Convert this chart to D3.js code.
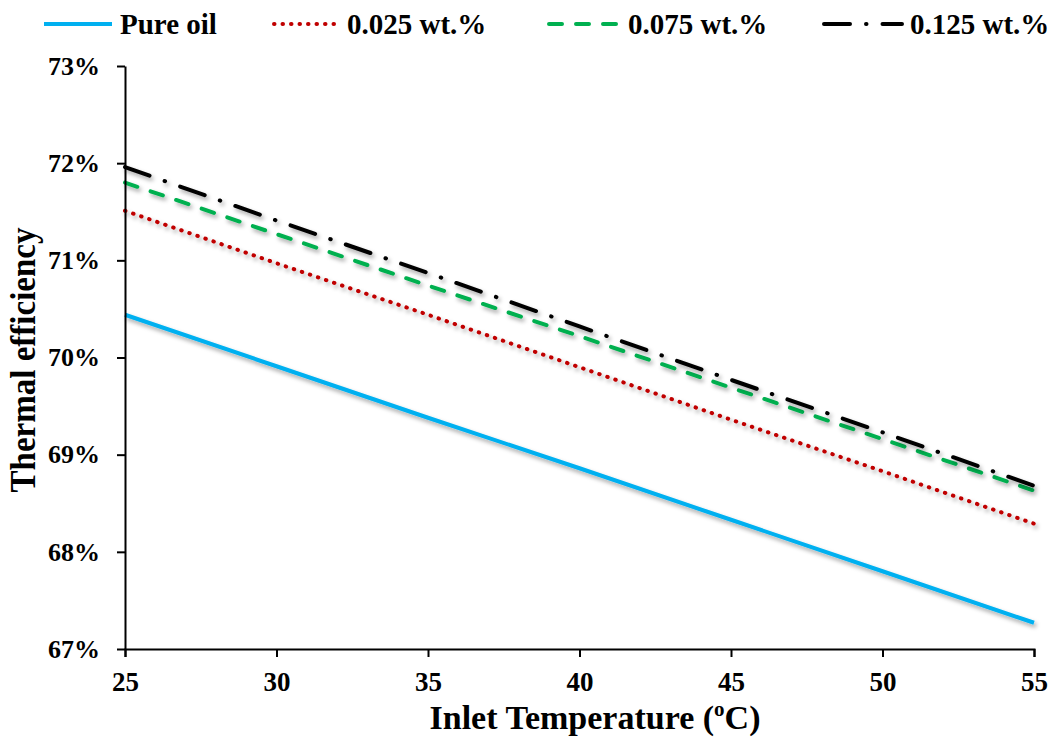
<!DOCTYPE html>
<html>
<head>
<meta charset="utf-8">
<script src="https://cdn.jsdelivr.net/npm/d3@7"></script>
<style>
  body { margin: 0; background: #fff; }
  svg text { font-family: "Liberation Serif", "Times New Roman", Times, serif; font-weight: bold; fill: #000; }
  .axis path, .axis line { stroke: #000; stroke-width: 2; }
</style>
</head>
<body>
<div id="chart"></div>
<script>
// data
const temps = [25, 30, 35, 40, 45, 50, 55];
const pureOil = [70.44, 69.91, 69.38, 68.86, 68.33, 67.80, 67.27];
const wt025 = [71.51, 70.97, 70.44, 69.90, 69.36, 68.83, 68.29];
const wt075 = [71.80, 71.27, 70.74, 70.22, 69.69, 69.16, 68.63];
const wt125 = [71.96, 71.41, 70.87, 70.32, 69.77, 69.23, 68.68];
const seriesNames = ["Pure oil", "0.025 wt.%", "0.075 wt.%", "0.125 wt.%"];
const yTicks = [67, 68, 69, 70, 71, 72, 73];

const svgWidth = 1051, svgHeight = 740;
const margin = { top: 66, right: 17, bottom: 91, left: 125 };
const width = svgWidth - margin.left - margin.right;
const height = svgHeight - margin.top - margin.bottom;

const styles = [
    { color: "#00B0F0", dash: null, cap: "butt" },
    { color: "#C00000", dash: "0.5 8", cap: "round" },
    { color: "#00B050", dash: "13 14", cap: "round" },
    { color: "#000000", dash: "26 16 0.5 16", cap: "round" }
];
const allSeries = [pureOil, wt025, wt075, wt125];

const svg = d3.select("#chart").append("svg")
    .attr("width", svgWidth)
    .attr("height", svgHeight);

const defs = svg.append("defs");
const filter = defs.append("filter").attr("id", "shadow")
    .attr("x", "-5%").attr("y", "-20%").attr("width", "110%").attr("height", "160%");
filter.append("feDropShadow")
    .attr("dx", 2).attr("dy", 3).attr("stdDeviation", 2)
    .attr("flood-color", "#000").attr("flood-opacity", 0.35);

const g = svg.append("g").attr("transform", `translate(${margin.left},${margin.top})`);

const xScale = d3.scaleLinear().domain([25, 55]).range([0, width]);
const yScale = d3.scaleLinear().domain([67, 73]).range([height, 0]);

const line = d3.line()
    .x((_, i) => xScale(temps[i]))
    .y(d => yScale(d));

allSeries.forEach((data, i) => {
    g.append("path")
        .datum(data)
        .attr("d", line)
        .attr("fill", "none")
        .attr("stroke", styles[i].color)
        .attr("stroke-width", 4)
        .attr("stroke-linecap", styles[i].cap)
        .attr("stroke-dasharray", styles[i].dash)
        .attr("filter", "url(#shadow)");
});

// axes
const xAxis = d3.axisBottom(xScale).tickValues(temps).tickSize(8).tickSizeOuter(8).tickPadding(15);
g.append("g")
    .attr("class", "axis x-axis")
    .attr("transform", `translate(0,${height})`)
    .call(xAxis)
    .call(a => a.selectAll("text").attr("font-size", 27));

const yAxis = d3.axisLeft(yScale).tickValues(yTicks).tickSize(8).tickSizeOuter(0).tickPadding(17)
    .tickFormat(d => d + "%");
g.append("g")
    .attr("class", "axis y-axis")
    .call(yAxis)
    .call(a => a.selectAll("text").attr("font-size", 26));

// axis titles
const xTitle = svg.append("text")
    .attr("x", 595)
    .attr("y", 729)
    .attr("text-anchor", "middle")
    .attr("font-size", 34);
xTitle.append("tspan").text("Inlet Temperature (");
xTitle.append("tspan").text("o").attr("font-size", 21).attr("dy", -13);
xTitle.append("tspan").text("C)").attr("dy", 13);

svg.append("text")
    .attr("transform", "translate(35,360) rotate(-90)")
    .attr("text-anchor", "middle")
    .attr("font-size", 35)
    .attr("textLength", 265)
    .attr("lengthAdjust", "spacingAndGlyphs")
    .text("Thermal efficiency");

// legend
const legendX = [44, 274, 549, 824];
const legendW = [68, 65, 71, 78];
const legend = svg.append("g").attr("class", "legend");
seriesNames.forEach((name, i) => {
    const item = legend.append("g").attr("transform", `translate(${legendX[i]},24)`);
    item.append("line")
        .attr("x1", 0).attr("x2", legendW[i])
        .attr("y1", 0).attr("y2", 0)
        .attr("stroke", styles[i].color)
        .attr("stroke-width", 4)
        .attr("stroke-linecap", styles[i].cap)
        .attr("stroke-dasharray", styles[i].dash);
    item.append("text")
        .attr("x", legendW[i] + 8)
        .attr("y", 10)
        .attr("font-size", 29)
        .text(name);
});
</script>
</body>
</html>
